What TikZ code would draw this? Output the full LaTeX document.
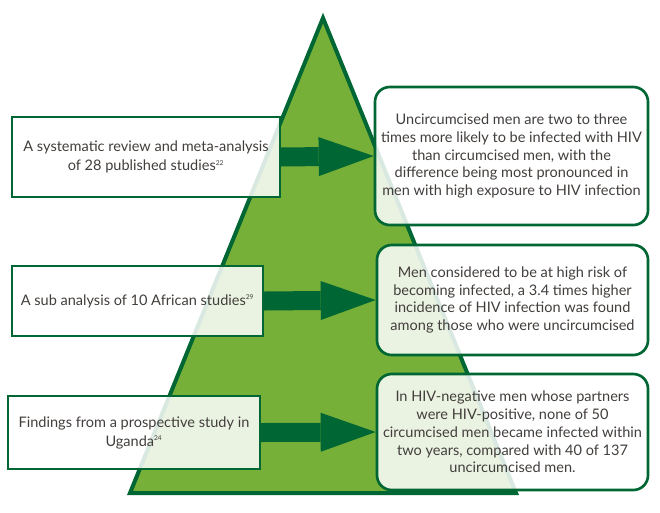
\documentclass[tikz,border=0pt]{standalone}
\usepackage{fontspec}
\setmainfont{Lato}
\usetikzlibrary{arrows.meta}
\definecolor{leafgreen}{RGB}{118,176,56}
\definecolor{darkgreen}{RGB}{0,102,51}
\definecolor{bodytext}{RGB}{66,62,60}
\newcommand{\refmark}[1]{\textsuperscript{\tiny #1}}
\tikzset{
  studybox/.style={draw=darkgreen,line width=1.2pt,fill=white,fill opacity=0.85,
    text opacity=1,text=bodytext,align=center,inner sep=0pt,
    font=\fontsize{10.9}{14.25}\selectfont},
  findbox/.style={studybox,line width=2pt,rounded corners=11pt,
    font=\fontsize{10.9}{13.35}\selectfont},
  bigarrow/.style={darkgreen,line width=14.25pt,
    -{Triangle[length=41.25pt,width=29.25pt,line width=0pt]}},
}
\begin{document}
\begin{tikzpicture}[x=0.75pt,y=-0.75pt]
\useasboundingbox (0,0) rectangle (660,512);
%% pyramid
\filldraw[fill=leafgreen,draw=darkgreen,line width=3pt,line join=miter]
  (323,18) -- (516,493) -- (130,493) -- cycle;
%% evidence
\node (review) at (146,157) [studybox,minimum width=201pt,minimum height=60pt]
  {A systematic review and meta-analysis\\of 28 published studies\refmark{22}};
\node (subanalysis) at (137.5,301) [studybox,minimum width=188.25pt,minimum height=52.5pt]
  {A sub analysis of 10 African studies\refmark{29}};
\node (uganda) at (134,432.5) [studybox,minimum width=189pt,minimum height=54.75pt]
  {Findings from a prospective study in\\Uganda\refmark{24}};
%% findings
\node (twothree) at (511.5,156) [findbox,minimum width=204.75pt,minimum height=103.5pt]
  {Uncircumcised men are two to three\\times more likely to be infected with HIV\\than circumcised men, with the\\difference being most pronounced in\\men with high exposure to HIV infection};
\node (highrisk) at (512.5,300) [findbox,minimum width=203.25pt,minimum height=82.5pt]
  {Men considered to be at high risk of\\becoming infected, a 3.4 times higher\\incidence of HIV infection was found\\among those who were uncircumcised};
\node (partners) at (512.5,432) [findbox,minimum width=203.25pt,minimum height=87pt]
  {In HIV-negative men whose partners\\were HIV-positive, none of 50\\circumcised men became infected within\\two years, compared with 40 of 137\\uncircumcised men.};
%% arrows
\draw [bigarrow] (review.east) -- (twothree.west);
\draw [bigarrow] (subanalysis.east) -- (highrisk.west);
\draw [bigarrow] (uganda.east) -- (partners.west);
%
\end{tikzpicture}
\end{document}
